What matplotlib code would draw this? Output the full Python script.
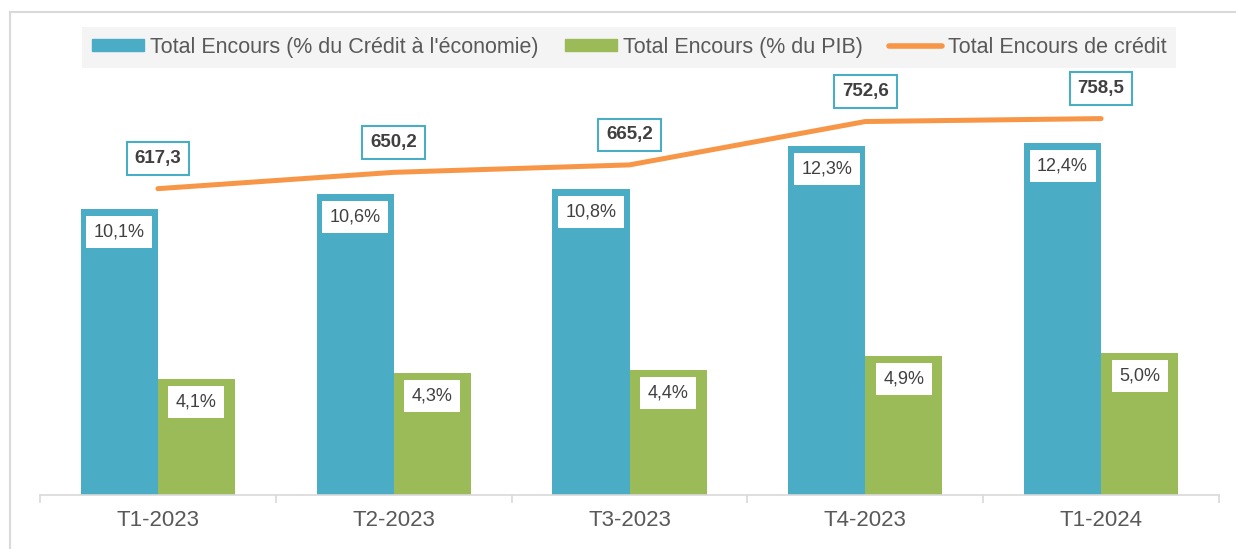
import numpy as np
import matplotlib as mpl
mpl.use('Agg')
import matplotlib.pyplot as plt
from matplotlib.lines import Line2D
from matplotlib.patches import Patch

plt.rcParams['font.family'] = ['Liberation Sans', 'DejaVu Sans']

periodes = ['T1-2023', 'T2-2023', 'T3-2023', 'T4-2023', 'T1-2024']
pct_credit = [10.1, 10.6, 10.8, 12.3, 12.4]   # % du crédit à l'économie
pct_pib = [4.1, 4.3, 4.4, 4.9, 5.0]            # % du PIB
encours = [617.3, 650.2, 665.2, 752.6, 758.5]  # total encours de crédit

BLEU = '#4BACC6'
VERT = '#9BBB59'
ORANGE = '#F79646'
TEXTE = '#595959'
GRIS = '#D9D9D9'


def fr(v, suffix=''):
    return f'{v:.1f}'.replace('.', ',') + suffix


fig = plt.figure(figsize=(12.36, 5.49), dpi=100)
ax = fig.add_axes([40 / 1236, 54 / 549, 1179 / 1236, 397 / 549])
ax2 = ax.twinx()

x = np.arange(len(periodes))
w = 0.327
b1 = ax.bar(x - w / 2, pct_credit, w, color=BLEU, zorder=2)
b2 = ax.bar(x + w / 2, pct_pib, w, color=VERT, zorder=2)
ax.set_ylim(0, 14)
ax.set_xlim(-0.5, len(periodes) - 0.5)

ax2.plot(x, encours, color=ORANGE, lw=3.6, solid_capstyle='round', zorder=3)
ax2.set_ylim(0, 800)

# étiquettes des barres
for bars, vals in ((b1, pct_credit), (b2, pct_pib)):
    for r, v in zip(bars, vals):
        ax.annotate(fr(v, '%'), (r.get_x() + r.get_width() / 2, v),
                    xytext=(0, -23), textcoords='offset pixels',
                    ha='center', va='center', fontsize=13, color='#404040',
                    bbox=dict(boxstyle='square,pad=0.42', fc='white', ec='none'),
                    zorder=4)

# étiquettes de la courbe
for xi, v in zip(x, encours):
    ax2.annotate(fr(v), (xi, v), xytext=(0, 30), textcoords='offset pixels',
                 ha='center', va='center', fontsize=13.5, fontweight='bold',
                 color='#404040', annotation_clip=False,
                 bbox=dict(boxstyle='square,pad=0.42', fc='white', ec=BLEU, lw=1.5),
                 zorder=5)

for a in (ax, ax2):
    for s in a.spines.values():
        s.set_visible(False)
    a.set_yticks([])
ax.spines['bottom'].set_visible(True)
ax.spines['bottom'].set_color(GRIS)
ax.spines['bottom'].set_linewidth(1.2)
ax.set_xticks(x)
ax.set_xticklabels(periodes, fontsize=16, color=TEXTE)
ax.tick_params(axis='x', which='major', length=0, pad=11)
ax.set_xticks(np.arange(len(periodes) + 1) - 0.5, minor=True)
ax.tick_params(axis='x', which='minor', length=6, color=GRIS, width=1.2)

handles = [Patch(color=BLEU), Patch(color=VERT),
           Line2D([0], [0], color=ORANGE, lw=4, solid_capstyle='round')]
labels = ["Total Encours (% du Crédit à l'économie)", 'Total Encours (% du PIB)',
          'Total Encours de crédit']
leg = fig.legend(handles, labels, loc='center', bbox_to_anchor=(629 / 1236, 1 - 47.5 / 549),
                 ncol=3, fontsize=15.5, frameon=True, fancybox=False,
                 handlelength=2.45, handleheight=0.5, handletextpad=0.28,
                 columnspacing=1.2, borderpad=0.45, borderaxespad=0, labelcolor=TEXTE)
leg.get_frame().set_facecolor('#F2F2F2')
leg.get_frame().set_edgecolor('none')

# cadre
fig.add_artist(Line2D([10 / 1236, 10 / 1236], [0, 1 - 12 / 549], color=GRIS, lw=1.5))
fig.add_artist(Line2D([10 / 1236, 1], [1 - 12 / 549, 1 - 12 / 549], color=GRIS, lw=1.5))

fig.savefig('out.png', dpi=100)
